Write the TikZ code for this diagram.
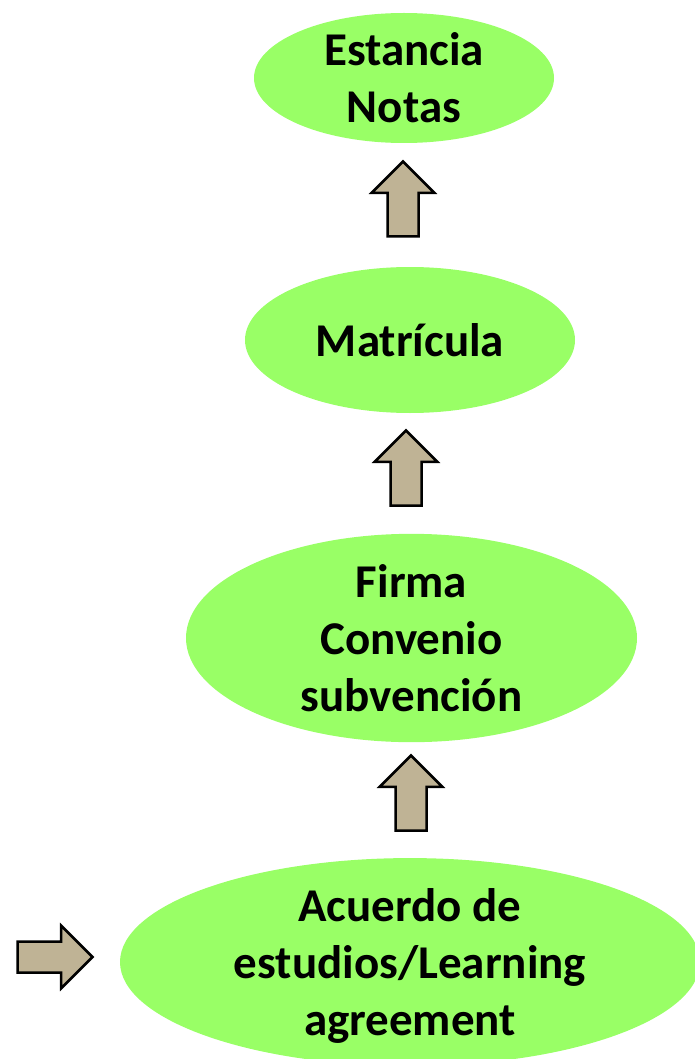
\documentclass[tikz,border=0pt]{standalone}
\usepackage{fontspec}
\setmainfont{Carlito}
\usetikzlibrary{shapes.geometric,shapes.arrows}
\definecolor{verde}{RGB}{153,255,102}
\definecolor{tostado}{RGB}{191,179,149}

\tikzset{
  paso/.style={ellipse, fill=verde, inner sep=0pt, align=center,
    font=\bfseries\fontsize{47}{57}\selectfont},
  flecha/.style={single arrow, draw=black, fill=tostado, line width=2.5pt,
    inner sep=0pt, inner ysep=14.25pt, minimum width=0pt,
    single arrow head extend=15.75pt, minimum height=75pt, anchor=tail}
}

\begin{document}
\begin{tikzpicture}[x=1pt,y=-1pt]
\useasboundingbox (0,0) rectangle (694,1059);
\node[paso, minimum width=300pt, minimum height=130pt] (estancia) at (404,78) {Estancia\\Notas};
\node[paso, minimum width=330pt, minimum height=146pt] (matricula) at (410,340) {Matrícula};
\node[paso, minimum width=451pt, minimum height=200pt] (firma) at (411.5,638) {Firma\\Convenio\\subvención};
\node[paso, minimum width=580pt, minimum height=194pt, text depth=0pt] (acuerdo) at (410,962) {Acuerdo de\\estudios/Learning\\agreement};
\node[flecha, rotate=90] (f1) at (403,237.75) {};
\node[flecha, rotate=90] (f2) at (406,506.75) {};
\node[flecha, rotate=90] (f3) at (411,831.75) {};
\node[flecha] (f0) at (16.25,957) {};
\end{tikzpicture}
\end{document}
